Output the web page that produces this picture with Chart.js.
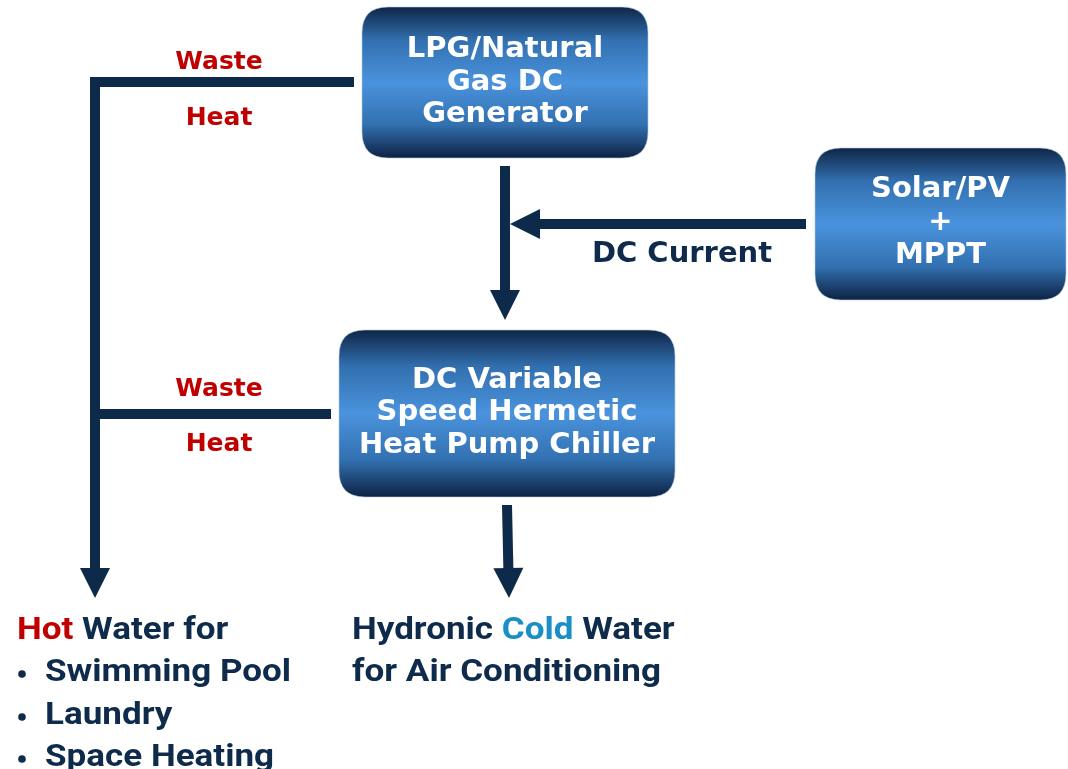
<!DOCTYPE html>
<html>
<head>
<meta charset="utf-8">
<script src="https://cdn.jsdelivr.net/npm/chart.js@4.4.1/dist/chart.umd.min.js"></script>
<style>
  html, body { margin: 0; padding: 0; background: #ffffff; }
  #wrap { width: 1068px; height: 769px; }
</style>
</head>
<body>
<div id="wrap"><canvas id="flow" width="1068" height="769"></canvas></div>
<script>
// diagram content, in the chart's own x/y units (0..1068, 0..769 top-down)
const boxNames = ["generator", "solar", "chiller"];
const boxLines = [
  ["LPG/Natural", "Gas DC", "Generator"],
  ["Solar/PV", "+", "MPPT"],
  ["DC Variable", "Speed Hermetic", "Heat Pump Chiller"],
];
const boxLeft = [362, 815, 339];
const boxRight = [648, 1066, 675];
const boxTop = [7, 148, 330];
const boxBottom = [158, 300, 497];
const boxLineY = [
  [47, 80, 112],
  [187, 220, 253],
  [378, 410, 443],
];

// connectors: list of [x, y]; last point is where the arrow tip goes
const connectors = [
  [[354, 82], [95, 82], [95, 598]],
  [[331, 414], [95, 414]],
  [[505, 166], [505, 320]],
  [[806, 224], [510, 224]],
  [[507, 505], [509, 598]],
];
const hasArrow = [true, false, true, true, true];

const flowLabels = ["Waste", "Heat", "Waste", "Heat", "DC Current"];
const flowLabelX = [219, 219, 219, 219, 682];
const flowLabelY = [60, 116, 387, 442, 252];
const flowLabelRed = [true, true, true, true, false];

// output texts: each line is a list of [text, colourKey]
const outputLines = [
  [["Hot", "red"], [" Water for", "navy"]],
  [["Swimming Pool", "navy"]],
  [["Laundry", "navy"]],
  [["Space Heating", "navy"]],
  [["Hydronic ", "navy"], ["Cold", "cyan"], [" Water", "navy"]],
  [["for Air Conditioning", "navy"]],
];
const outputX = [17, 45, 45, 45, 352, 352];
const outputY = [628, 670, 713, 755, 628, 670];
const outputBullet = [false, true, true, true, false, false];

const NAVY = "#0e2a4a";
const colours = { red: "#c00000", navy: "#0f2b4c", cyan: "#1a8fc6" };
const HEAD_LEN = 30;
const HEAD_HALF = 15;
const OUT_STRETCH = 1.13;

// build line datasets; stop each line where its arrowhead begins
const datasets = connectors.map((pts, i) => {
  const data = pts.map(p => ({ x: p[0], y: p[1] }));
  if (hasArrow[i]) {
    const a = pts[pts.length - 2], b = pts[pts.length - 1];
    const dx = b[0] - a[0], dy = b[1] - a[1];
    const len = Math.hypot(dx, dy);
    const back = HEAD_LEN - 3;
    data[data.length - 1] = { x: b[0] - dx / len * back, y: b[1] - dy / len * back };
  }
  return {
    data: data,
    showLine: true,
    borderColor: NAVY,
    borderWidth: 10,
    borderJoinStyle: "miter",
    borderCapStyle: "butt",
    pointRadius: 0,
    tension: 0,
  };
});

function roundRect(ctx, x, y, w, h, r) {
  ctx.beginPath();
  ctx.moveTo(x + r, y);
  ctx.lineTo(x + w - r, y);
  ctx.quadraticCurveTo(x + w, y, x + w, y + r);
  ctx.lineTo(x + w, y + h - r);
  ctx.quadraticCurveTo(x + w, y + h, x + w - r, y + h);
  ctx.lineTo(x + r, y + h);
  ctx.quadraticCurveTo(x, y + h, x, y + h - r);
  ctx.lineTo(x, y + r);
  ctx.quadraticCurveTo(x, y, x + r, y);
  ctx.closePath();
}

const diagramPlugin = {
  id: "diagram",
  afterDatasetsDraw(chart) {
    const ctx = chart.ctx;
    const xs = chart.scales.x, ys = chart.scales.y;
    const px = v => xs.getPixelForValue(v);
    const py = v => ys.getPixelForValue(v);

    // arrowheads
    ctx.save();
    ctx.fillStyle = NAVY;
    connectors.forEach((pts, i) => {
      if (!hasArrow[i]) return;
      const a = pts[pts.length - 2], b = pts[pts.length - 1];
      const tx = px(b[0]), ty = py(b[1]);
      const dx = px(b[0]) - px(a[0]), dy = py(b[1]) - py(a[1]);
      const len = Math.hypot(dx, dy);
      const ux = dx / len, uy = dy / len;
      const bx = tx - ux * HEAD_LEN, by = ty - uy * HEAD_LEN;
      ctx.beginPath();
      ctx.moveTo(tx, ty);
      ctx.lineTo(bx - uy * HEAD_HALF, by + ux * HEAD_HALF);
      ctx.lineTo(bx + uy * HEAD_HALF, by - ux * HEAD_HALF);
      ctx.closePath();
      ctx.fill();
    });
    ctx.restore();

    // boxes
    boxNames.forEach((name, i) => {
      const x0 = px(boxLeft[i]), x1 = px(boxRight[i]);
      const y0 = py(boxTop[i]), y1 = py(boxBottom[i]);
      const g = ctx.createLinearGradient(0, y0, 0, y1);
      g.addColorStop(0, "#0f2647");
      g.addColorStop(0.22, "#3270b0");
      g.addColorStop(0.5, "#4a93dd");
      g.addColorStop(0.78, "#3270b0");
      g.addColorStop(1, "#0d2243");
      ctx.save();
      roundRect(ctx, x0, y0, x1 - x0, y1 - y0, 26);
      ctx.fillStyle = g;
      ctx.fill();
      ctx.strokeStyle = "rgba(180,200,225,0.6)";
      ctx.lineWidth = 1;
      ctx.stroke();
      ctx.fillStyle = "#ffffff";
      ctx.font = "bold 29px 'DejaVu Sans'";
      ctx.textAlign = "center";
      ctx.textBaseline = "middle";
      const cx = (x0 + x1) / 2;
      boxLines[i].forEach((t, j) => ctx.fillText(t, cx, py(boxLineY[i][j]) + 2));
      ctx.restore();
    });

    // labels on the connectors
    ctx.save();
    ctx.textAlign = "center";
    ctx.textBaseline = "middle";
    flowLabels.forEach((t, i) => {
      ctx.font = flowLabelRed[i] ? "bold 25px 'DejaVu Sans'" : "bold 29px 'DejaVu Sans'";
      ctx.fillStyle = flowLabelRed[i] ? colours.red : colours.navy;
      ctx.fillText(t, px(flowLabelX[i]), py(flowLabelY[i]) + 2);
    });
    ctx.restore();

    // output texts (slightly widened to match the original typeface)
    ctx.save();
    ctx.textAlign = "left";
    ctx.textBaseline = "middle";
    ctx.font = "bold 31px Roboto";
    outputLines.forEach((parts, i) => {
      const x0 = px(outputX[i]);
      const y = py(outputY[i]) + 3;
      if (outputBullet[i]) {
        ctx.fillStyle = colours.navy;
        ctx.beginPath();
        ctx.arc(x0 - 23, y + 1, 3.8, 0, Math.PI * 2);
        ctx.fill();
      }
      ctx.save();
      ctx.translate(x0, y);
      ctx.scale(OUT_STRETCH, 1);
      let x = 0;
      parts.forEach(p => {
        ctx.fillStyle = colours[p[1]];
        ctx.fillText(p[0], x, 0);
        x += ctx.measureText(p[0]).width;
      });
      ctx.restore();
    });
    ctx.restore();
  },
};

new Chart(document.getElementById("flow"), {
  type: "scatter",
  data: { datasets: datasets },
  options: {
    responsive: false,
    animation: false,
    layout: { padding: 0 },
    plugins: { legend: { display: false }, tooltip: { enabled: false } },
    scales: {
      x: { type: "linear", min: 0, max: 1068, display: false },
      y: { type: "linear", min: 0, max: 769, reverse: true, display: false },
    },
  },
  plugins: [diagramPlugin],
});
</script>
</body>
</html>
